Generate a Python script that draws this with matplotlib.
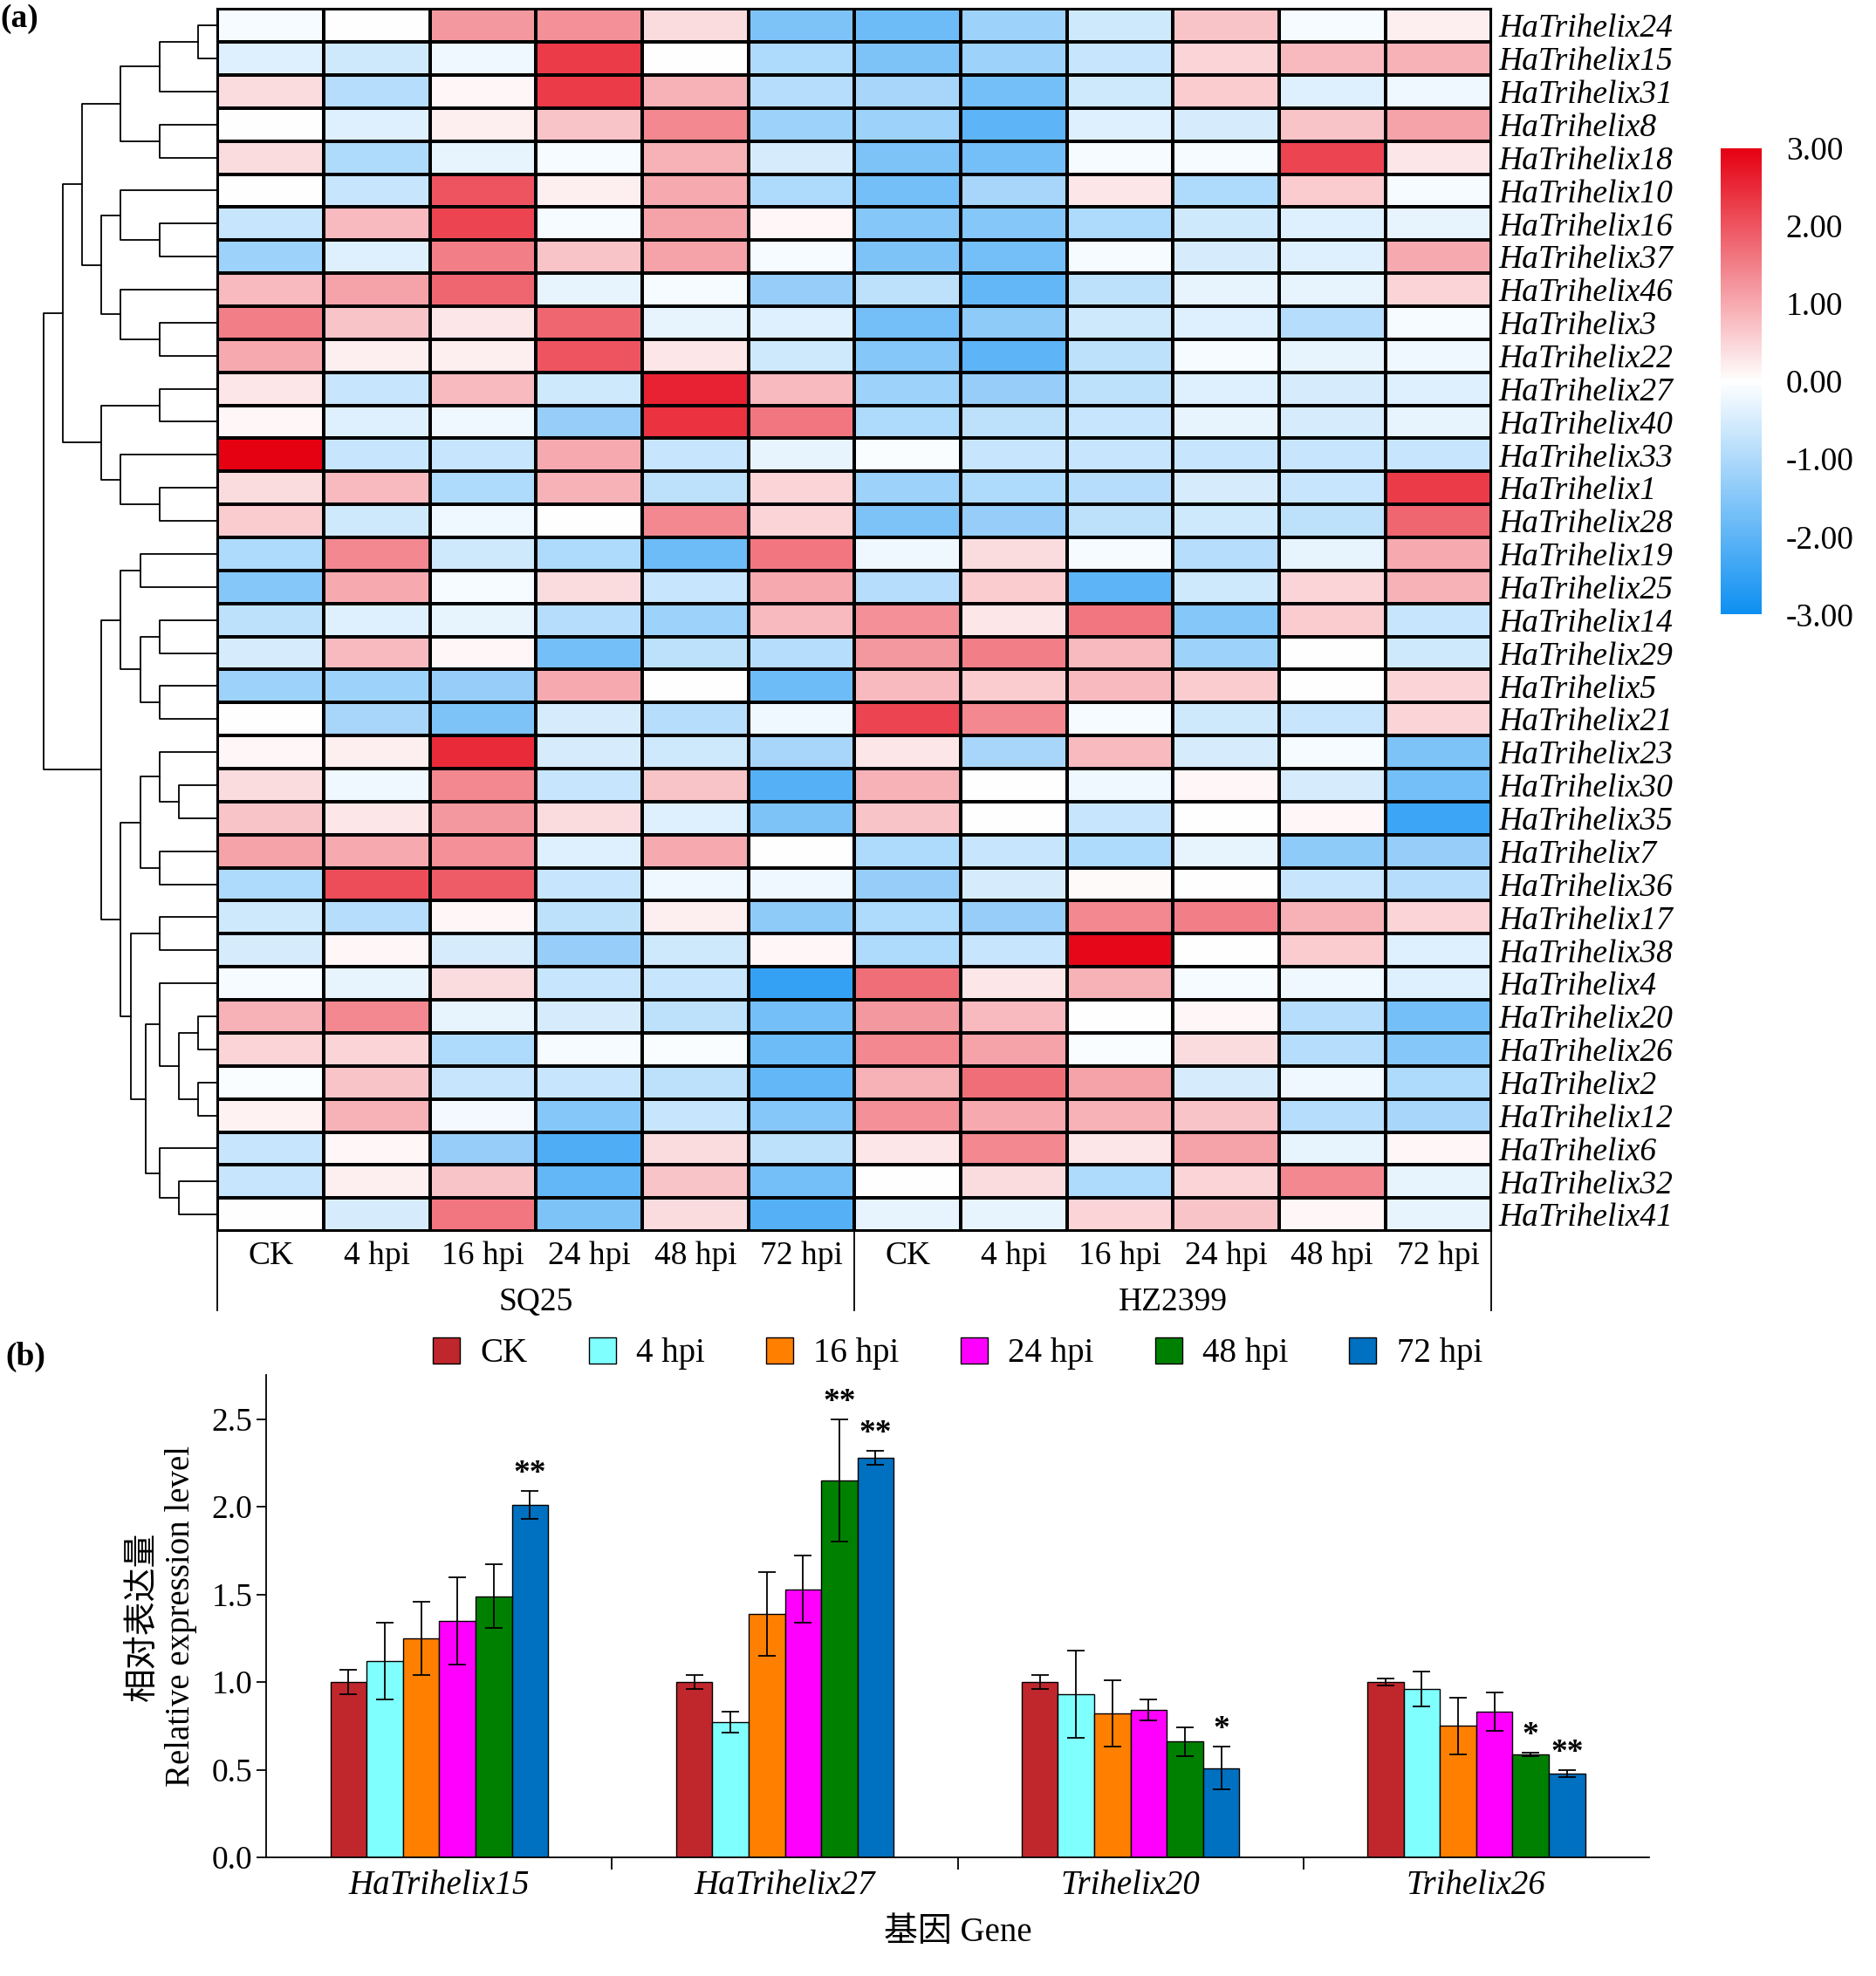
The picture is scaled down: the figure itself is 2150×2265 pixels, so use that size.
import numpy as np
import matplotlib.pyplot as plt
from matplotlib.colors import LinearSegmentedColormap

plt.rcParams['font.family'] = ['Liberation Serif', 'Noto Sans CJK SC']

genes = ["HaTrihelix24", "HaTrihelix15", "HaTrihelix31", "HaTrihelix8", "HaTrihelix18",
         "HaTrihelix10", "HaTrihelix16", "HaTrihelix37", "HaTrihelix46", "HaTrihelix3",
         "HaTrihelix22", "HaTrihelix27", "HaTrihelix40", "HaTrihelix33", "HaTrihelix1",
         "HaTrihelix28", "HaTrihelix19", "HaTrihelix25", "HaTrihelix14", "HaTrihelix29",
         "HaTrihelix5", "HaTrihelix21", "HaTrihelix23", "HaTrihelix30", "HaTrihelix35",
         "HaTrihelix7", "HaTrihelix36", "HaTrihelix17", "HaTrihelix38", "HaTrihelix4",
         "HaTrihelix20", "HaTrihelix26", "HaTrihelix2", "HaTrihelix12", "HaTrihelix6",
         "HaTrihelix32", "HaTrihelix41"]
times = ["CK", "4 hpi", "16 hpi", "24 hpi", "48 hpi", "72 hpi"]
cultivars = ["SQ25", "HZ2399"]

expr = np.array([
    [-0.1, 0.0, 1.2, 1.3, 0.4, -1.6, -1.8, -1.2, -0.6, 0.7, -0.1, 0.2],
    [-0.4, -0.6, -0.2, 2.3, 0.0, -1.0, -1.6, -1.2, -0.7, 0.5, 0.8, 0.9],
    [0.4, -0.9, 0.1, 2.3, 0.9, -0.9, -1.1, -1.7, -0.6, 0.6, -0.4, -0.2],
    [0.0, -0.4, 0.2, 0.7, 1.4, -1.2, -1.2, -2.0, -0.4, -0.5, 0.7, 1.1],
    [0.4, -1.0, -0.3, -0.1, 0.9, -0.5, -1.6, -1.7, -0.1, -0.1, 2.2, 0.3],
    [0.0, -0.7, 2.0, 0.2, 1.0, -1.0, -1.7, -1.1, 0.3, -1.0, 0.6, -0.1],
    [-0.7, 0.8, 2.2, -0.1, 1.1, 0.1, -1.5, -1.5, -1.0, -0.6, -0.4, -0.3],
    [-1.2, -0.4, 1.5, 0.7, 1.1, -0.1, -1.6, -1.7, -0.1, -0.5, -0.4, 1.0],
    [0.8, 1.1, 1.8, -0.3, -0.1, -1.3, -0.8, -1.9, -0.8, -0.3, -0.3, 0.5],
    [1.5, 0.7, 0.3, 1.8, -0.3, -0.4, -1.7, -1.4, -0.6, -0.4, -0.9, -0.1],
    [1.0, 0.2, 0.2, 2.0, 0.3, -0.6, -1.5, -2.0, -0.8, -0.1, -0.3, -0.2],
    [0.3, -0.7, 0.8, -0.6, 2.6, 0.8, -1.2, -1.3, -0.8, -0.4, -0.5, -0.4],
    [0.1, -0.4, -0.2, -1.3, 2.4, 1.6, -1.0, -0.8, -0.7, -0.3, -0.5, -0.3],
    [3.0, -0.7, -0.7, 1.0, -0.7, -0.3, -0.05, -0.7, -0.7, -0.7, -0.7, -0.7],
    [0.4, 0.8, -1.0, 0.9, -0.8, 0.5, -1.2, -1.0, -0.9, -0.5, -0.7, 2.3],
    [0.6, -0.6, -0.2, 0.0, 1.4, 0.5, -1.6, -1.3, -0.8, -0.6, -0.8, 1.8],
    [-1.0, 1.4, -0.6, -1.0, -1.8, 1.6, -0.2, 0.4, -0.1, -0.9, -0.3, 1.0],
    [-1.5, 1.0, -0.1, 0.4, -0.7, 1.0, -0.9, 0.6, -2.0, -0.6, 0.5, 0.9],
    [-0.8, -0.4, -0.3, -0.9, -1.2, 0.8, 1.3, 0.3, 1.6, -1.5, 0.6, -0.7],
    [-0.5, 0.8, 0.1, -1.7, -0.8, -0.9, 1.2, 1.5, 0.8, -1.2, 0.0, -0.6],
    [-1.2, -1.2, -1.3, 1.0, 0.0, -1.8, 0.8, 0.6, 0.8, 0.6, 0.0, 0.5],
    [0.0, -1.1, -1.6, -0.5, -0.9, -0.2, 2.2, 1.4, -0.1, -0.6, -0.7, 0.5],
    [0.1, 0.2, 2.5, -0.5, -0.6, -1.1, 0.3, -1.1, 0.8, -0.5, -0.1, -1.6],
    [0.4, -0.2, 1.4, -0.7, 0.7, -2.1, 0.9, 0.0, -0.2, 0.1, -0.5, -1.7],
    [0.7, 0.3, 1.2, 0.4, -0.4, -1.6, 0.7, 0.0, -0.7, 0.0, 0.1, -2.4],
    [1.1, 1.0, 1.3, -0.4, 1.0, 0.0, -1.0, -0.7, -1.0, -0.3, -1.4, -1.3],
    [-1.0, 2.1, 1.9, -0.7, -0.2, -0.2, -1.3, -0.5, 0.05, 0.0, -0.7, -0.9],
    [-0.6, -0.9, 0.1, -0.8, 0.2, -1.4, -1.0, -1.3, 1.4, 1.5, 0.9, 0.5],
    [-0.5, 0.1, -0.5, -1.3, -0.6, 0.1, -1.0, -0.7, 2.9, 0.0, 0.6, -0.4],
    [-0.1, -0.3, 0.4, -0.7, -0.7, -2.5, 1.7, 0.3, 0.9, -0.1, -0.2, -0.4],
    [0.9, 1.4, -0.3, -0.5, -0.8, -1.7, 1.2, 0.8, 0.0, 0.1, -0.9, -1.7],
    [0.5, 0.5, -1.0, -0.1, -0.05, -1.8, 1.4, 1.1, -0.05, 0.4, -0.9, -1.5],
    [-0.05, 0.7, -0.7, -0.7, -0.8, -1.9, 0.9, 1.7, 1.1, -0.5, -0.2, -1.0],
    [0.15, 0.9, -0.15, -1.5, -0.7, -1.5, 1.3, 1.0, 0.9, 0.7, -0.9, -1.1],
    [-0.7, 0.1, -1.3, -2.2, 0.4, -0.8, 0.3, 1.4, 0.3, 1.1, -0.3, 0.1],
    [-0.7, 0.2, 0.7, -1.9, 0.7, -1.7, 0.0, 0.4, -1.0, 0.5, 1.4, -0.3],
    [0.0, -0.5, 1.6, -1.6, 0.4, -2.1, -0.3, -0.3, 0.5, 0.7, 0.1, -0.3],
])

# dendrogram nodes: (left, right, height)
A = (((0, 1, 1), 2, 3), (3, 4, 3), 5)
B = ((5, (6, 7, 3), 5), (8, (9, 10, 3), 5), 6)
C = ((11, 12, 3), (13, (14, 15, 3), 5), 6)
top = ((A, B, 7), C, 8)
D = ((16, 17, 4), ((18, 19, 3), (20, 21, 3), 4), 5)
E = ((22, (23, 24, 2), 3), (25, 26, 3), 4)
F = (29, ((30, 31, 1), (32, 33, 1), 2), 3)
G = (34, (35, 36, 2), 3)
H = ((27, 28, 3), (F, G, 3.7), 4.5)
bottom = (D, (E, H, 5), 6)
tree = (top, bottom, 9)

bar_genes = ["HaTrihelix15", "HaTrihelix27", "Trihelix20", "Trihelix26"]
bar_vals = np.array([
    [1.00, 1.12, 1.25, 1.35, 1.49, 2.01],
    [1.00, 0.77, 1.39, 1.53, 2.15, 2.28],
    [1.00, 0.93, 0.82, 0.84, 0.66, 0.51],
    [1.00, 0.96, 0.75, 0.83, 0.59, 0.48],
])
bar_err = np.array([
    [0.07, 0.22, 0.21, 0.25, 0.18, 0.08],
    [0.04, 0.06, 0.24, 0.19, 0.35, 0.04],
    [0.04, 0.25, 0.19, 0.06, 0.08, 0.12],
    [0.02, 0.10, 0.16, 0.11, 0.01, 0.02],
])
bar_sig = [["", "", "", "", "", "**"],
           ["", "", "", "", "**", "**"],
           ["", "", "", "", "", "*"],
           ["", "", "", "", "*", "**"]]
bar_colors = ["#c0272d", "#80ffff", "#ff8000", "#ff00ff", "#008000", "#0070c0"]

fig = plt.figure(figsize=(21.5, 22.65), dpi=100)
cmap = LinearSegmentedColormap.from_list("bwr2", ["#0d8ff2", "#ffffff", "#e50012"])
fs = 27

# heatmap
ax = fig.add_axes([0.116, 0.377, 0.679, 0.6185])
nr, nc = expr.shape
mesh = ax.pcolormesh(expr, cmap=cmap, vmin=-3, vmax=3, edgecolors="k", linewidth=1.5)
ax.set_xlim(0, nc)
ax.set_ylim(nr, 0)
ax.set_xticks([])
ax.set_yticks(np.arange(nr) + 0.5)
ax.yaxis.tick_right()
ax.set_yticklabels(genes, fontsize=fs, style="italic")
ax.tick_params(axis="y", length=0, pad=6)
for s in ax.spines.values():
    s.set_linewidth(1.5)
for i, t in enumerate(times * 2):
    ax.text(i + 0.5, nr + 0.75, t, ha="center", va="center", fontsize=fs)
for j, c in enumerate(cultivars):
    ax.text(6 * j + 3, nr + 2.15, c, ha="center", va="center", fontsize=fs)
for xv in [0, 6, 12]:
    ax.plot([xv, xv], [nr, nr + 2.4], color="k", lw=1.3, clip_on=False)
ax.text(-2.05, 0.3, "(a)", fontsize=fs, ha="left", va="center", fontweight="bold")

# dendrogram
axd = fig.add_axes([0.02, 0.377, 0.096, 0.6185])
axd.set_xlim(9.3, 0)
axd.set_ylim(nr, 0)
axd.axis("off")

def draw(node):
    if isinstance(node, int):
        return node + 0.5, 0
    a, b, h = node
    ya, ha = draw(a)
    yb, hb = draw(b)
    axd.plot([ha, h, h, hb], [ya, ya, yb, yb], color="k", lw=1.3)
    return (ya + yb) / 2, h

draw(tree)

# colorbar
cax = fig.add_axes([0.917, 0.689, 0.022, 0.236])
cb = fig.colorbar(mesh, cax=cax, ticks=[-3, -2, -1, 0, 1, 2, 3])
cb.ax.set_yticklabels([f"{v:.2f}" for v in [-3, -2, -1, 0, 1, 2, 3]], fontsize=fs)
cb.ax.tick_params(length=0, pad=20)
cb.outline.set_visible(False)

# bar chart
axb = fig.add_axes([0.142, 0.060, 0.737, 0.244])
n = len(times)
w = 0.105
x = np.arange(len(bar_genes))
for k in range(n):
    xs = x + (k - (n - 1) / 2) * w
    axb.bar(xs, bar_vals[:, k], w, color=bar_colors[k], edgecolor="k", linewidth=1,
            yerr=bar_err[:, k], capsize=7, error_kw=dict(elinewidth=1.3, capthick=1.3),
            label=times[k])
    for g in range(len(bar_genes)):
        if bar_sig[g][k]:
            axb.text(xs[g], bar_vals[g, k] + bar_err[g, k] + 0.01, bar_sig[g][k],
                     ha="center", va="bottom", fontsize=fs, fontweight="bold")
axb.set_xlim(-0.5, len(bar_genes) - 0.5)
axb.set_ylim(0, 2.75)
axb.set_yticks(np.arange(0, 2.51, 0.5))
axb.set_yticklabels([f"{v:.1f}" for v in np.arange(0, 2.51, 0.5)], fontsize=fs)
axb.set_xticks(x)
axb.set_xticklabels(bar_genes, fontsize=28, style="italic")
axb.set_xticks(np.arange(0.5, len(bar_genes) - 0.5, 1), minor=True)
axb.tick_params(axis="x", which="major", length=0, pad=10)
axb.tick_params(axis="x", which="minor", length=10, width=1.3)
axb.tick_params(axis="y", length=8, width=1.3)
axb.spines["top"].set_visible(False)
axb.spines["right"].set_visible(False)
for s in ["left", "bottom"]:
    axb.spines[s].set_linewidth(1.3)
axb.set_ylabel("相对表达量\nRelative expression level", fontsize=28, labelpad=12)
axb.set_xlabel("基因 Gene", fontsize=28, labelpad=12)
axb.legend(loc="center", bbox_to_anchor=(0.5, 1.045), ncol=6, frameon=False,
           fontsize=28, handlelength=0.8, handleheight=0.8, columnspacing=1.8,
           handletextpad=0.6)
fig.text(0.003, 0.309, "(b)", fontsize=fs, fontweight="bold")

fig.savefig("out.png")
